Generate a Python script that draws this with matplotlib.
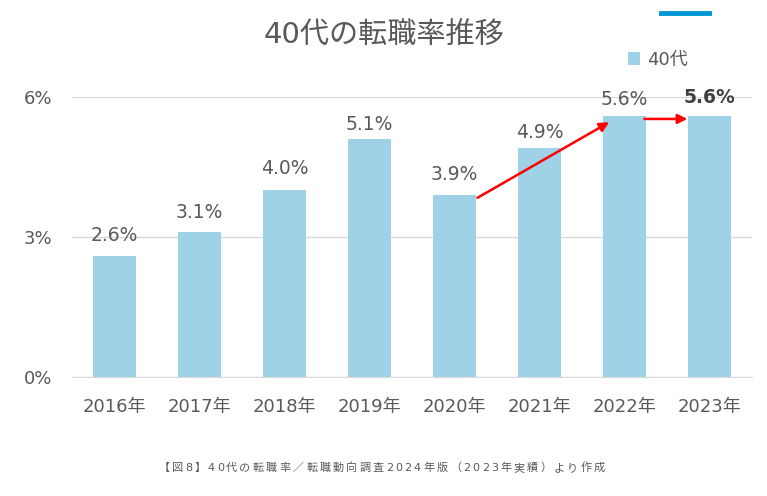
import matplotlib
matplotlib.use("Agg")
import matplotlib.pyplot as plt

plt.rcParams['font.family'] = ['DejaVu Sans', 'Noto Sans CJK JP']

years = ["2016年", "2017年", "2018年", "2019年", "2020年", "2021年", "2022年", "2023年"]
values = [2.6, 3.1, 4.0, 5.1, 3.9, 4.9, 5.6, 5.6]
labels = ["2.6%", "3.1%", "4.0%", "5.1%", "3.9%", "4.9%", "5.6%", "5.6%"]
yticks = [0, 3, 6]
ytick_labels = ["0%", "3%", "6%"]
series_name = "40代"
title = "40代の転職率推移"
footnote = "【図8】40代の転職率／転職動向調査2024年版（2023年実績）より作成"

# label offsets above bars (points) - layout only
label_offsets = [8, 7.3, 8.7, 3.7, 8, 4.4, 5.1, 6.6]

text_color = "#595959"
bar_color = "#9fd2e6"

fig = plt.figure(figsize=(7.67, 4.96), dpi=100)
ax = fig.add_axes([0.0939, 0.2399, 0.8865, 0.5645])

x = list(range(len(years)))
ax.bar(x, values, width=0.5, color=bar_color, zorder=2, label=series_name)
ax.set_xlim(-0.5, len(years) - 0.5)
ax.set_ylim(0, 6)
ax.set_yticks(yticks)
ax.set_yticklabels(ytick_labels)
ax.set_xticks(x)
ax.set_xticklabels(years)
ax.grid(axis='y', color="#d9d9d9", linewidth=1, zorder=0)
for s in ["top", "right", "left"]:
    ax.spines[s].set_visible(False)
ax.spines["bottom"].set_color("#d9d9d9")
ax.tick_params(axis='both', length=0, labelsize=13, colors=text_color)
ax.tick_params(axis='y', pad=14)
ax.tick_params(axis='x', pad=15)

for i, (v, lab) in enumerate(zip(values, labels)):
    bold = (i == len(values) - 1)
    ax.annotate(lab, (i, v), xytext=(0, label_offsets[i]), textcoords="offset points",
                ha="center", va="bottom", fontsize=13.5, color=text_color if not bold else "#404040",
                fontweight="bold" if bold else "normal", annotation_clip=False)

# arrows
ax.annotate("", xy=(5.82, 5.46), xytext=(4.27, 3.84),
            arrowprops=dict(arrowstyle="-|>", color="#ff0000", lw=1.8, mutation_scale=14,
                            shrinkA=0, shrinkB=0), zorder=5, annotation_clip=False)
ax.annotate("", xy=(6.74, 5.53), xytext=(6.235, 5.53),
            arrowprops=dict(arrowstyle="-|>", color="#ff0000", lw=1.8, mutation_scale=14,
                            shrinkA=0, shrinkB=0), zorder=5, annotation_clip=False)

fig.text(0.5, 0.928, title, ha="center", va="center", fontsize=21, color=text_color)

# legend
leg = ax.legend(loc="center", frameon=False,
                fontsize=13, handlelength=0.7, handleheight=0.7, handletextpad=0.4,
                labelcolor=text_color)
leg.set_bbox_to_anchor((658 / 767, 436 / 496), transform=fig.transFigure)

# blue accent line
fig.add_artist(plt.Line2D([661 / 767, 709 / 767], [483 / 496, 483 / 496],
                          color="#0096d6", lw=3.5, transform=fig.transFigure))

# footnote with letter spacing
renderer = fig.canvas.get_renderer()
spacing = 2.2  # pixels between characters
chars = list(footnote)
widths = []
tmp_texts = []
for ch in chars:
    t = fig.text(0, 0, ch, fontsize=8, color=text_color)
    widths.append(t.get_window_extent(renderer).width)
    tmp_texts.append(t)
total = sum(widths) + spacing * (len(chars) - 1)
W = fig.get_figwidth() * fig.dpi
xpos = (W - total) / 2.0 - 2
ypix = 496 - 468
for t, w in zip(tmp_texts, widths):
    t.set_position((xpos / W, ypix / 496))
    t.set_va("center")
    xpos += w + spacing

fig.savefig("out.png", dpi=100)
